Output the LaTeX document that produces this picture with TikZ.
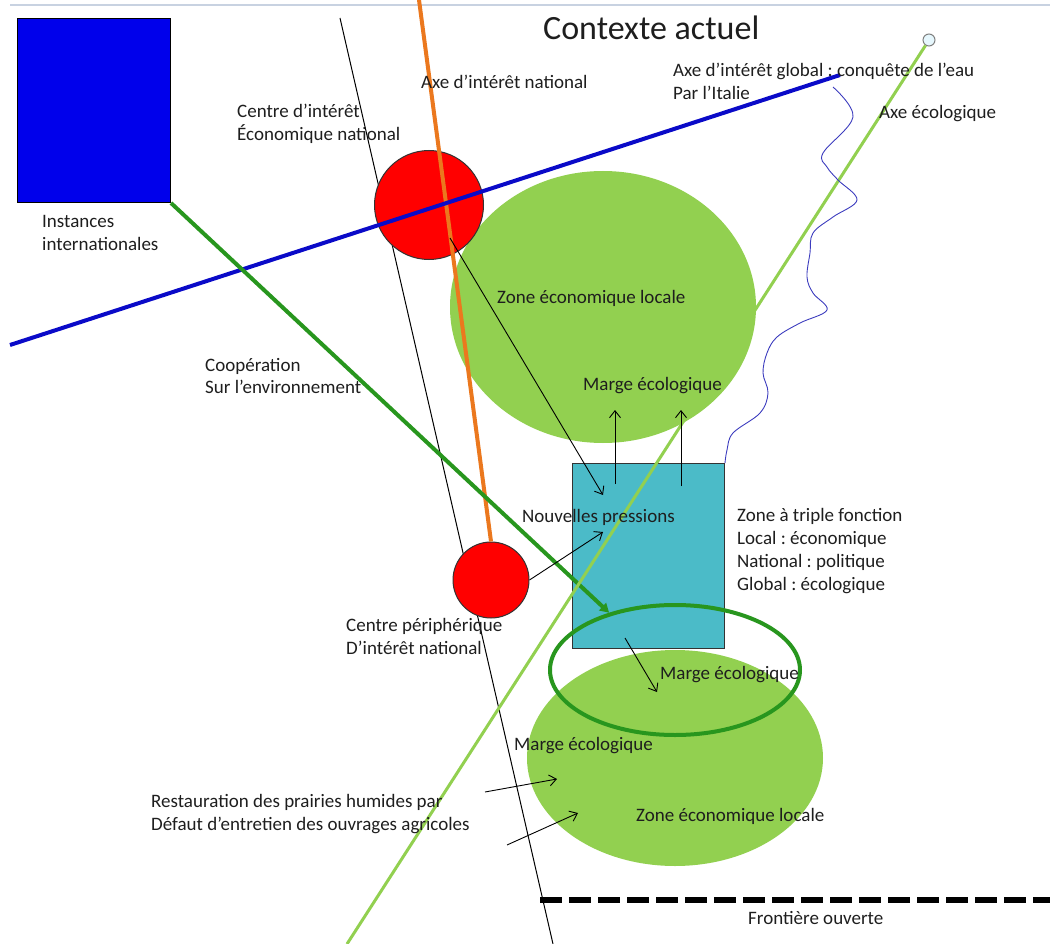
\documentclass[tikz,border=0pt]{standalone}
\usepackage{fontspec}
\setmainfont{Carlito}
\frenchspacing
\usetikzlibrary{arrows.meta, positioning, calc, shapes.geometric}
\definecolor{bleuinst}{RGB}{0,0,235}
\definecolor{bleuaxe}{RGB}{10,10,200}
\definecolor{rougectr}{RGB}{255,0,0}
\definecolor{vertclair}{RGB}{146,208,80}
\definecolor{vertfonce}{RGB}{40,150,30}
\definecolor{orangeaxe}{RGB}{235,120,30}
\definecolor{turquoise}{RGB}{75,187,200}
\definecolor{texte}{RGB}{30,30,30}
\definecolor{riviere}{RGB}{60,60,190}
\tikzset{
    carte/.style={x=1pt, y=-1pt, font=\fontsize{19}{23}\selectfont, text=texte},
    legende/.style={anchor=west, inner sep=0pt, align=left},
    centre/.style={draw=black!80, fill=rougectr, circle, inner sep=0pt, line width=1pt},
    zone/.style={fill=vertclair, ellipse, inner sep=0pt},
    marge/.style={draw=vertfonce, line width=4pt, ellipse, inner sep=0pt},
    pil/.style={-{Straight Barb[length=7pt, width=11pt]}, line width=0.9pt},
    axe/.style={line width=4pt},
}

\begin{document}
\begin{tikzpicture}[carte]
    \useasboundingbox (0,0) rectangle (1050,944);
    \draw[color={rgb,255:red,200;green,210;blue,225}, line width=1.5pt] (10,5) -- (1050,5);

    % zones
    \node[zone, minimum width=306pt, minimum height=272pt] (zonehaut) at (603,307) {};
    \node[zone, minimum width=296pt, minimum height=216pt] (zonebas)  at (675,758) {};
    \node[draw=black!80, fill=turquoise, line width=1pt, inner sep=0pt,
          minimum width=152pt, minimum height=185pt]       (triple)   at (648,556) {};
    \node[marge, minimum width=250pt, minimum height=130pt] (margebas) at (675,670) {};
    \node[draw=black, fill=bleuinst, line width=1pt, inner sep=0pt, anchor=north west,
          minimum width=153pt, minimum height=184pt]       (inst)     at (17,18) {};

    % axe noir
    \coordinate (noirhaut) at (340,18);
    \coordinate (noirbas)  at (553,944);
    \draw[line width=1pt] (noirhaut) -- (noirbas);

    % centres
    \node[centre, minimum size=109pt] (ecnat)  at (429,205) {};
    \node[centre, minimum size=76pt]  (periph) at (491,580) {};

    % axes
    \coordinate (orhaut) at (419,0);
    \draw[axe, orangeaxe] (orhaut) -- (periph.north);
    \coordinate (bleug) at (10,345);
    \coordinate (bleud) at (840,75);
    \draw[axe, bleuaxe] (bleug) -- (bleud);
    \draw[axe, vertfonce, -{Triangle[length=9pt, width=10pt]}] (inst.south east) -- (margebas.139);
    \node[draw=gray, fill=cyan!10, circle, minimum size=12pt, inner sep=0pt, line width=1pt] (source) at (929,40) {};
    \coordinate (ecobas) at (347,944);
    \draw[vertclair, line width=3pt] (source) -- (ecobas);

    % riviere
    \draw[riviere, line width=0.9pt] plot[smooth, tension=0.6] coordinates {
        (833,87) (853,117) (823,153) (827,167) (838,180) (857,200) (833,217) (813,233)
        (810,253) (807,277) (813,293) (827,310) (800,323) (777,337) (767,353) (763,373)
        (768,393) (760,413) (733,433) (727,450) (725,463)};

    % pressions
    \draw[pil] ($(ecnat)+(21,33)$) -- ($(triple)+(-45,-61)$);
    \draw[pil] (periph.east) -- ($(triple)+(-45,-24)$);
    \draw[pil] ($(triple.north)+(-33,21)$) -- ($(triple.north)+(-33,-53)$);
    \draw[pil] ($(triple.north)+(33,23)$) -- ($(triple.north)+(33,-53)$);
    \draw[pil] ($(triple.south)+(-23,-11)$) -- ($(triple.south)+(9,43)$);
    \coordinate (resta) at (485,792);
    \coordinate (restb) at (507,845);
    \draw[pil] (resta) -- ($(zonebas)+(-118,21)$);
    \draw[pil] (restb) -- ($(zonebas)+(-97,55)$);

    % frontiere
    \coordinate (frontg) at (540,900);
    \coordinate (frontd) at (1050,900);
    \draw[line width=6pt, dash pattern=on 22pt off 7pt] (frontg) -- (frontd);

    % textes
    \node[legende, font=\fontsize{34}{40}\selectfont] (titre) at (543,28) {Contexte actuel};
    \node[legende] (instlbl)   at (42,233)  {Instances\\internationales};
    \node[legende] (ecnatlbl)  at (237,124) {Centre d’intérêt\\Économique national};
    \node[legende] (axenat)    at (421,82)  {Axe d’intérêt national};
    \node[legende] (axeglob)   at (673,81)  {Axe d’intérêt global : conquête de l’eau\\Par l’Italie};
    \node[legende] (axeeco)    at (879,114) {Axe écologique};
    \node[legende] (zhlbl)     at (497,298) {Zone économique locale};
    \node[legende] (mhlbl)     at (583,386) {Marge écologique};
    \node[legende] (cooplbl)   at (205,376) {Coopération\\Sur l’environnement};
    \node[legende] (preslbl)   at (522,517) {Nouvelles pressions};
    \node[legende] (triplelbl) at (737,551) {Zone à triple fonction\\Local : économique\\National : politique\\Global : écologique};
    \node[legende] (periphlbl) at (346,636) {Centre périphérique\\D’intérêt national};
    \node[legende] (mmlbl)     at (660,675) {Marge écologique};
    \node[legende] (mblbl)     at (514,746) {Marge écologique};
    \node[legende] (restlbl)   at (151,814) {Restauration des prairies humides par\\Défaut d’entretien des ouvrages agricoles};
    \node[legende] (zblbl)     at (636,816) {Zone économique locale};
    \node[legende] (frontlbl)  at (748,918) {Frontière ouverte};
\end{tikzpicture}
\end{document}
